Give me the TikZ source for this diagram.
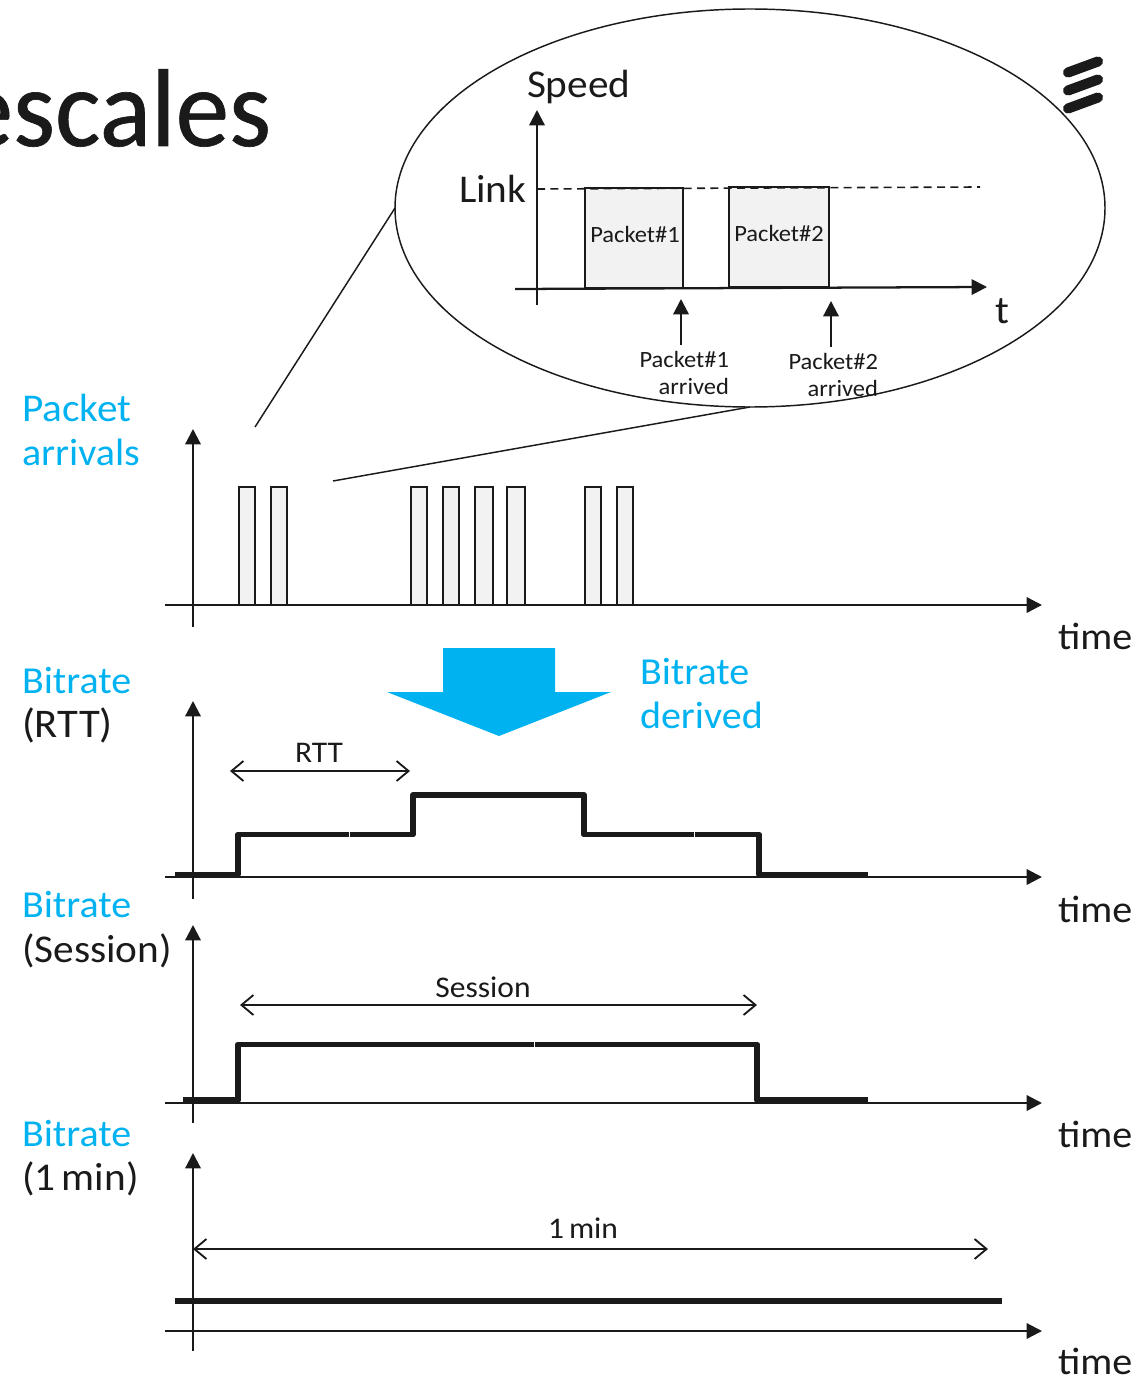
\documentclass[tikz,border=0pt]{standalone}
\usepackage{fontspec}
\setmainfont[FakeStretch=1.05]{Carlito}
\newfontfamily\titlefont[FakeStretch=0.97,FakeBold=0.6]{Carlito}
\usetikzlibrary{arrows.meta,shapes.geometric}
\definecolor{ink}{HTML}{1A1A1A}
\definecolor{sky}{HTML}{00B2F0}
\definecolor{pale}{HTML}{F2F2F2}
\tikzset{
  x=0.75pt,y=-0.75pt,
  every node/.style={inner sep=0pt,outer sep=0pt,text=ink},
  axis/.style={draw=ink,line width=1.7pt,-{Triangle[length=11.5pt,width=11.5pt]}},
  plain/.style={draw=ink,line width=1.1pt},
  sig/.style={draw=ink,line width=4.4pt,line join=round},
  bar/.style={draw=ink,line width=1.2pt,fill=pale},
  span/.style={draw=ink,line width=1.2pt,{Straight Barb[length=9pt,width=15pt,line width=1.4pt]}-{Straight Barb[length=9pt,width=15pt,line width=1.4pt]}},
  big/.style={font=\fontsize{29.5}{32}\selectfont,anchor=base west},
  narrow/.style={font=\fontsize{28.6}{32}\selectfont,anchor=base west},
  bluetxt/.style={big,text=sky},
  bluenarrow/.style={narrow,text=sky},
  small/.style={font=\fontsize{22.5}{24}\selectfont,anchor=base},
  tiny/.style={font=\fontsize{17.5}{20.5}\selectfont},
}
\begin{document}
\begin{tikzpicture}
\useasboundingbox (0,0) rectangle (1147,1376);
\clip (0,0) rectangle (1147,1376);
% title and logo
\node[font=\titlefont\fontsize{83}{90}\selectfont,anchor=base east] (title) at (271,146) {escales};
\foreach \n/\yy in {a/67,b/85,c/103}{
  \coordinate (l\n) at (1068,\yy+5.5);
  \coordinate (r\n) at (1098,\yy-5.5);
  \draw[ink,line width=7.6pt,line cap=round] (l\n) -- (r\n);
}
% callout ellipse
\node[draw=ink,line width=1.1pt,ellipse,minimum width=532.5pt,minimum height=298.5pt] (zoomell) at (750,208) {};
\coordinate (ca) at (255,427);
\coordinate (cb) at (333,481);
\draw[plain] (ca) -- (zoomell.west);
\draw[plain] (cb) -- (zoomell.south);
% inner chart
\coordinate (iy0) at (537,305);
\coordinate (iy1) at (537,110);
\coordinate (ix0) at (515,289);
\coordinate (ix1) at (987,287);
\coordinate (d0) at (537,189);
\coordinate (d1) at (980,187);
\node[bar,minimum width=73.6pt,minimum height=75pt,anchor=north west] (p1) at (585,188) {};
\node[tiny] at (635,234.5) (p1t) {Packet\#1};
\node[bar,minimum width=75pt,minimum height=75pt,anchor=north west] (p2) at (729,187) {};
\node[tiny] at (779,233.5) (p2t) {Packet\#2};
\draw[draw=ink,line width=1.2pt,dash pattern=on 6pt off 4pt] (d0) -- (d1);
\draw[axis] (iy0) -- (iy1);
\draw[axis] (ix0) -- (ix1);
\node[big] (speed) at (527,98) {Speed};
\node[big] (link) at (459,202.5) {Link};
\node[big] (tlab) at (995,323) {t};
\node[tiny,align=right,anchor=north east] (a1t) at (729,351) {Packet\#1\\arrived};
\node[tiny,align=right,anchor=north east] (a2t) at (878,353) {Packet\#2\\arrived};
\coordinate (a1s) at (681,345);
\coordinate (a1e) at (681,299);
\coordinate (a2s) at (831,347);
\coordinate (a2e) at (831,301);
\draw[axis] (a1s) -- (a1e);
\draw[axis] (a2s) -- (a2e);
% chart 1: packet arrivals
\node[bluetxt] (l1a) at (22,421) {Packet};
\node[bluenarrow] (l1b) at (22,465) {arrivals};
\coordinate (y1a) at (193,627); \coordinate (y1b) at (193,429);
\coordinate (x1a) at (165,605); \coordinate (x1b) at (1042,605);
\foreach \n/\xx/\ww in {a/239/12,b/271/12,c/411/12,d/443/12,e/475/13.5,f/507/13.5,g/585/12,h/617/12}{
  \node[bar,minimum height=88.5pt,minimum width=\ww pt,anchor=north west] (pk\n) at (\xx,487) {};
}
\draw[axis] (y1a) -- (y1b);
\draw[axis] (x1a) -- (x1b);
\node[narrow] (t1) at (1058,649) {time};
% derived arrow
\fill[sky] (443,648) -- (555,648) -- (555,692) -- (611,692) -- (499,736) -- (387,692) -- (443,692) -- cycle;
\node[bluenarrow] (der1) at (640,684) {Bitrate};
\node[bluenarrow] (der2) at (640,728) {derived};
% chart 2: RTT
\node[bluenarrow] (l2a) at (22,693) {Bitrate};
\node[big,font=\fontsize{30.5}{32}\selectfont] (l2b) at (22,737) {(RTT)};
\coordinate (y2a) at (193,899); \coordinate (y2b) at (193,701);
\coordinate (x2a) at (165,877); \coordinate (x2b) at (1042,877);
\draw[axis] (y2a) -- (y2b);
\draw[axis] (x2a) -- (x2b);
\draw[sig] (175,874.5) -- (238,874.5) -- (238,834.5) -- (413,834.5) -- (413,795) -- (584,795) -- (584,834.5) -- (759,834.5) -- (759,874.5) -- (868,874.5);
\draw[white,line width=0.6pt] (349,831) -- (349,838) (694,831) -- (694,838);
\coordinate (r1) at (230,771); \coordinate (r2) at (410,771);
\draw[span] (r1) -- (r2);
\node[small] (rtt) at (319,762) {RTT};
\node[narrow] (t2) at (1058,922) {time};
% chart 3: Session
\node[bluenarrow] (l3a) at (22,917) {Bitrate};
\node[big] (l3b) at (22,962) {(Session)};
\coordinate (y3a) at (193,1123); \coordinate (y3b) at (193,925);
\coordinate (x3a) at (165,1103); \coordinate (x3b) at (1042,1103);
\draw[axis] (y3a) -- (y3b);
\draw[axis] (x3a) -- (x3b);
\draw[sig] (183,1100) -- (238,1100) -- (238,1044.5) -- (757,1044.5) -- (757,1100) -- (868,1100);
\draw[white,line width=0.6pt] (534,1041) -- (534,1048);
\coordinate (s1) at (240,1005); \coordinate (s2) at (757,1005);
\draw[span] (s1) -- (s2);
\node[small] (sess) at (483,997) {Session};
\node[narrow] (t3) at (1058,1147) {time};
% chart 4: 1 min
\node[bluenarrow] (l4a) at (22,1146) {Bitrate};
\node[big] (l4b) at (22,1190) {(1\,min)};
\coordinate (y4a) at (193,1351); \coordinate (y4b) at (193,1153);
\coordinate (x4a) at (165,1331); \coordinate (x4b) at (1042,1331);
\draw[axis] (y4a) -- (y4b);
\draw[axis] (x4a) -- (x4b);
\draw[sig] (175,1301) -- (1002,1301);
\coordinate (m1) at (193,1249); \coordinate (m2) at (988,1249);
\draw[span] (m1) -- (m2);
\node[small] (onemin) at (583,1238) {1\,min};
\node[narrow] (t4) at (1058,1374) {time};
\end{tikzpicture}
\end{document}
